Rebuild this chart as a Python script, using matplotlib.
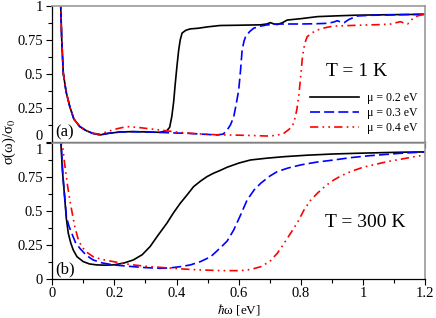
import matplotlib
matplotlib.use('Agg')
import matplotlib.pyplot as plt
from matplotlib.ticker import MultipleLocator, NullFormatter
from matplotlib.transforms import offset_copy

plt.rcParams['font.family'] = ['Liberation Serif', 'DejaVu Serif']
plt.rcParams['mathtext.fontset'] = 'stix'

# T = 1 K panel
black_1k_x = [0.027, 0.031, 0.036, 0.045, 0.057, 0.070, 0.089, 0.11, 0.13, 0.154, 0.18, 0.22, 0.26,
              0.30, 0.347, 0.369, 0.378, 0.385, 0.391, 0.396, 0.402, 0.407, 0.412, 0.418, 0.43, 0.444,
              0.47, 0.50, 0.54, 0.60, 0.67, 0.69, 0.702, 0.713, 0.724, 0.74, 0.756, 0.80, 0.853, 0.92,
              0.97, 1.05, 1.12, 1.2]
black_1k_y = [1.05, 0.75, 0.505, 0.37, 0.26, 0.17, 0.115, 0.085, 0.066, 0.054, 0.065, 0.076, 0.078,
              0.076, 0.073, 0.085, 0.11, 0.19, 0.30, 0.43, 0.57, 0.675, 0.75, 0.80, 0.82, 0.83,
              0.835, 0.845, 0.855, 0.857, 0.86, 0.866, 0.876, 0.866, 0.862, 0.875, 0.895, 0.905, 0.92,
              0.926, 0.93, 0.933, 0.935, 0.937]

blue_1k_x = [0.027, 0.031, 0.036, 0.045, 0.057, 0.070, 0.089, 0.11, 0.13, 0.154, 0.18, 0.22, 0.26,
             0.30, 0.35, 0.40, 0.433, 0.48, 0.53, 0.55, 0.563, 0.574, 0.584, 0.592, 0.60, 0.606,
             0.611, 0.617, 0.622, 0.635, 0.648, 0.67, 0.69, 0.724, 0.76, 0.80, 0.85, 0.885, 0.905,
             0.917, 0.928, 0.939, 0.955, 0.982, 1.03, 1.08, 1.14, 1.2]
blue_1k_y = [1.05, 0.75, 0.505, 0.37, 0.26, 0.17, 0.115, 0.085, 0.066, 0.054, 0.066, 0.076, 0.078,
             0.076, 0.072, 0.068, 0.066, 0.06, 0.054, 0.06, 0.09, 0.13, 0.187, 0.28, 0.383, 0.53,
             0.676, 0.74, 0.773, 0.81, 0.835, 0.85, 0.859, 0.866, 0.866, 0.866, 0.868, 0.871, 0.88,
             0.89, 0.88, 0.876, 0.90, 0.925, 0.93, 0.932, 0.935, 0.937]

red_1k_x = [0.027, 0.031, 0.036, 0.045, 0.057, 0.070, 0.089, 0.11, 0.13, 0.154, 0.18, 0.21, 0.24,
            0.28, 0.347, 0.40, 0.45, 0.53, 0.584, 0.64, 0.69, 0.72, 0.745, 0.762, 0.777, 0.787,
            0.794, 0.80, 0.805, 0.812, 0.82, 0.835, 0.853, 0.88, 0.906, 0.96, 1.014, 1.06, 1.09,
            1.105, 1.12, 1.135, 1.143, 1.152, 1.16, 1.175, 1.186, 1.2]
red_1k_y = [1.05, 0.75, 0.505, 0.37, 0.26, 0.17, 0.115, 0.085, 0.066, 0.06, 0.08, 0.10, 0.115,
            0.108, 0.09, 0.075, 0.065, 0.055, 0.053, 0.05, 0.046, 0.05, 0.066, 0.095, 0.139, 0.24,
            0.359, 0.5, 0.627, 0.72, 0.773, 0.80, 0.822, 0.84, 0.851, 0.855, 0.859, 0.862, 0.866,
            0.875, 0.883, 0.87, 0.866, 0.885, 0.908, 0.925, 0.932, 0.937]

# T = 300 K panel
black_300k_x = [0.027, 0.033, 0.041, 0.046, 0.052, 0.06, 0.068, 0.08, 0.1, 0.12, 0.143, 0.17, 0.197,
                0.23, 0.261, 0.29, 0.315, 0.34, 0.369, 0.39, 0.412, 0.435, 0.455, 0.477, 0.498,
                0.519, 0.541, 0.563, 0.6, 0.638, 0.69, 0.745, 0.82, 0.906, 0.98, 1.068, 1.13, 1.2]
black_300k_y = [1.05, 0.8, 0.58, 0.44, 0.337, 0.265, 0.214, 0.165, 0.129, 0.112, 0.105, 0.103, 0.105,
                0.118, 0.141, 0.18, 0.239, 0.32, 0.41, 0.485, 0.556, 0.62, 0.678, 0.718, 0.751,
                0.776, 0.797, 0.82, 0.85, 0.873, 0.886, 0.897, 0.908, 0.917, 0.922, 0.927, 0.93, 0.932]

blue_300k_x = [0.028, 0.035, 0.046, 0.054, 0.063, 0.075, 0.089, 0.11, 0.132, 0.16, 0.197, 0.23,
               0.261, 0.3, 0.347, 0.38, 0.412, 0.445, 0.477, 0.51, 0.541, 0.563, 0.584, 0.606,
               0.627, 0.65, 0.671, 0.7, 0.724, 0.76, 0.8, 0.85, 0.906, 0.96, 1.014, 1.07, 1.12, 1.2]
blue_300k_y = [1.05, 0.75, 0.458, 0.39, 0.337, 0.27, 0.227, 0.175, 0.141, 0.12, 0.105, 0.098,
               0.092, 0.085, 0.08, 0.083, 0.092, 0.105, 0.129, 0.165, 0.23, 0.28, 0.361, 0.47,
               0.58, 0.655, 0.703, 0.755, 0.788, 0.815, 0.837, 0.857, 0.873, 0.89, 0.903, 0.913,
               0.922, 0.932]

red_300k_x = [0.03, 0.04, 0.05, 0.057, 0.065, 0.073, 0.083, 0.095, 0.11, 0.132, 0.16, 0.197, 0.23,
              0.261, 0.3, 0.347, 0.39, 0.434, 0.48, 0.541, 0.606, 0.64, 0.671, 0.70, 0.724, 0.745,
              0.767, 0.79, 0.81, 0.83, 0.853, 0.88, 0.906, 0.93, 0.96, 1.0, 1.046, 1.08, 1.12,
              1.16, 1.2]
red_300k_y = [1.05, 0.85, 0.68, 0.58, 0.48, 0.385, 0.3, 0.239, 0.2, 0.165, 0.145, 0.129, 0.115,
              0.105, 0.095, 0.087, 0.08, 0.073, 0.068, 0.063, 0.063, 0.072, 0.092, 0.13, 0.19,
              0.26, 0.337, 0.42, 0.507, 0.575, 0.63, 0.685, 0.727, 0.758, 0.788, 0.82, 0.844,
              0.862, 0.878, 0.895, 0.91]

labels = ['μ = 0.2 eV', 'μ = 0.3 eV', 'μ = 0.4 eV']
colors = ['black', '#0000ff', '#ff0000']
dash_styles = ['-', (0, (6, 2.5)), (0, (5, 2.5, 1, 2.5, 1, 2.5))]

fig = plt.figure(figsize=(4.36, 3.18), dpi=100)
left, width = 0.1195, 0.856
ax1 = fig.add_axes([left, 0.5525, width, 0.4296])
ax2 = fig.add_axes([left, 0.1219, width, 0.4296])


def draw_curve(ax, x, y, i, label=None):
    ax.plot(x, y, color=colors[i], lw=1.2, linestyle=dash_styles[i], label=label)


draw_curve(ax1, black_1k_x, black_1k_y, 0, labels[0])
draw_curve(ax1, blue_1k_x, blue_1k_y, 1, labels[1])
draw_curve(ax1, red_1k_x, red_1k_y, 2, labels[2])
draw_curve(ax2, black_300k_x, black_300k_y, 0)
draw_curve(ax2, blue_300k_x, blue_300k_y, 1)
draw_curve(ax2, red_300k_x, red_300k_y, 2)

tick_size = 10.5
for ax in (ax1, ax2):
    ax.set_xlim(0, 1.2)
    ax.set_ylim(0, 1)
    ax.yaxis.set_major_locator(MultipleLocator(0.25))
    ax.yaxis.set_minor_locator(MultipleLocator(0.125))
    ax.tick_params(which='major', direction='out', length=4.5, width=0.8, labelsize=tick_size, pad=2)
    ax.tick_params(which='minor', direction='out', length=3, width=0.8)
    for side in ('top', 'right'):
        ax.spines[side].set_color('#999999')
        ax.spines[side].set_linewidth(1.2)
    for side in ('left', 'bottom'):
        ax.spines[side].set_linewidth(0.9)
ax2.tick_params(axis='x', which='major', pad=1)

# the "0" of (a) and the "1" of (b) are drawn by hand, nudged apart
ax1.yaxis.set_major_formatter(plt.FuncFormatter(lambda v, p: '' if v == 0 else f'{v:g}'))
ax2.yaxis.set_major_formatter(plt.FuncFormatter(lambda v, p: '' if v == 1 else f'{v:g}'))
pad_pts = 4.5 + 2
ax1.text(0, 0, '0', fontsize=tick_size, ha='right', va='center',
         transform=offset_copy(ax1.transAxes, fig=fig, x=-pad_pts, y=4.5, units='points'))
ax2.text(0, 1, '1', fontsize=tick_size, ha='right', va='center',
         transform=offset_copy(ax2.transAxes, fig=fig, x=-pad_pts, y=-5.5, units='points'))

ax1.xaxis.set_major_locator(MultipleLocator(0.1))
ax1.xaxis.set_major_formatter(NullFormatter())
ax2.xaxis.set_major_locator(MultipleLocator(0.2))
ax2.xaxis.set_minor_locator(MultipleLocator(0.1))
ax2.xaxis.set_major_formatter(plt.FuncFormatter(lambda v, p: f'{v:g}'))

ax1.text(0.979, 0.52, 'T = 1 K', fontsize=14, ha='center', va='center')
ax2.text(1.008, 0.413, 'T = 300 K', fontsize=14, ha='center', va='center')
ax1.text(0.008, 0.015, '(a)', transform=ax1.transAxes, fontsize=12, ha='left', va='bottom')
ax2.text(0.008, 0.015, '(b)', transform=ax2.transAxes, fontsize=12, ha='left', va='bottom')

ax1.legend(loc='lower right', bbox_to_anchor=(1.0, 0.0), frameon=False, fontsize=8.5,
           handlelength=4.2, handletextpad=0.6, labelspacing=0.25, borderaxespad=0.3)

fig.text(0.548, 0.004, r'$\hbar$ω [eV]', fontsize=9.5, ha='center', va='bottom')
fig.text(0.022, 0.553, r'σ(ω)/σ$_0$', rotation=90, fontsize=10.5, ha='center', va='center')

fig.savefig('out.png', dpi=100)
